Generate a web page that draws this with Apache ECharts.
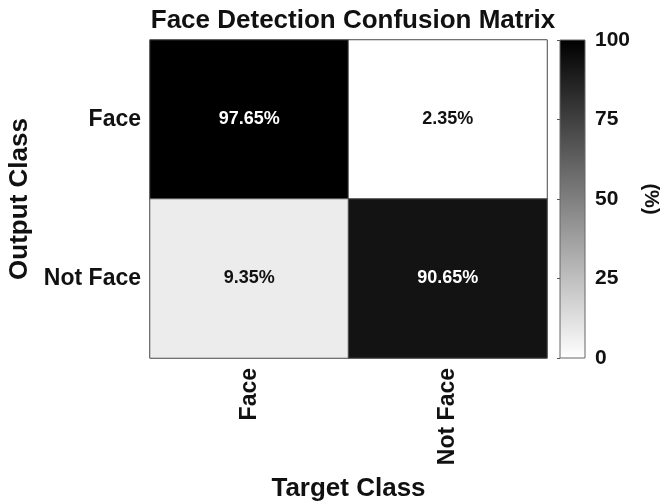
<!DOCTYPE html>
<html>
<head>
<meta charset="utf-8">
<script src="https://cdn.jsdelivr.net/npm/echarts@6/dist/echarts.min.js"></script>
<style>
  html, body { margin: 0; padding: 0; background: #fff; }
  #chart { width: 664px; height: 504px; }
</style>
</head>
<body>
<div id="chart"></div>
<script>
// confusion matrix, rows = output class, cols = target class (in %)
const targetClasses = ['Face', 'Not Face'];
const outputClasses = ['Face', 'Not Face'];
const cells = [
  [97.65, 2.35],
  [9.35, 90.65]
];
const colorTicks = [0, 25, 50, 75, 100];

const font = "'Liberation Sans', Arial, sans-serif";

var data = [];
cells.forEach(function (row, r) {
  row.forEach(function (v, c) {
    data.push({
      value: [c, r, v],
      label: { color: v > 50 ? '#ffffff' : '#111111' }
    });
  });
});
// cell shading is scaled over the data range (like the original plot)
var allVals = [].concat.apply([], cells);
var cMin = Math.min.apply(null, allVals);
var cMax = Math.max.apply(null, allVals);

var myChart = echarts.init(document.getElementById('chart'), null, { renderer: 'canvas' });

var option = {
  backgroundColor: '#fff',
  animation: false,
  title: {
    text: 'Face Detection Confusion Matrix',
    left: 348,
    top: 3,
    textAlign: 'center',
    textStyle: { fontFamily: font, fontSize: 26, fontWeight: 'bold', color: '#111' }
  },
  grid: [
    {
      left: 150, top: 40, width: 397, height: 318, show: true,
      borderColor: '#666', borderWidth: 1, outerBoundsMode: 'none'
    },
    {
      // colour bar
      left: 560, top: 40, width: 25, height: 318, show: true,
      borderColor: '#666', borderWidth: 1, outerBoundsMode: 'none',
      backgroundColor: new echarts.graphic.LinearGradient(0, 0, 0, 1, [
        { offset: 0, color: '#000000' },
        { offset: 1, color: '#ffffff' }
      ])
    }
  ],
  xAxis: [
    {
      type: 'category',
      gridIndex: 0,
      data: targetClasses,
      axisLine: { show: false },
      axisTick: { show: false },
      splitLine: { show: false },
      axisLabel: { rotate: 90, margin: 10, fontFamily: font, fontSize: 23, fontWeight: 'bold', color: '#111' },
      name: 'Target Class',
      nameLocation: 'middle',
      nameGap: 118,
      nameTextStyle: { fontFamily: font, fontSize: 26, fontWeight: 'bold', color: '#111' }
    },
    { type: 'value', gridIndex: 1, show: false, min: 0, max: 1 }
  ],
  yAxis: [
    {
      type: 'category',
      gridIndex: 0,
      data: outputClasses,
      inverse: true,
      axisLine: { show: false },
      axisTick: { show: false },
      splitLine: { show: false },
      axisLabel: { margin: 9, fontFamily: font, fontSize: 23, fontWeight: 'bold', color: '#111' },
      name: 'Output Class',
      nameLocation: 'middle',
      nameRotate: 90,
      nameGap: 116,
      nameTextStyle: { fontFamily: font, fontSize: 26, fontWeight: 'bold', color: '#111' }
    },
    {
      type: 'value',
      gridIndex: 1,
      position: 'right',
      min: colorTicks[0],
      max: colorTicks[colorTicks.length - 1],
      interval: 25,
      axisLine: { show: false },
      axisTick: { show: true, inside: true, length: 3, lineStyle: { color: '#555' } },
      splitLine: { show: false },
      axisLabel: { margin: 10, fontFamily: font, fontSize: 21, fontWeight: 'bold', color: '#111' },
      name: '(%)',
      nameLocation: 'middle',
      nameRotate: -90,
      nameGap: 56,
      nameTextStyle: { fontFamily: font, fontSize: 20, fontWeight: 'bold', color: '#111' }
    }
  ],
  visualMap: {
    show: false,
    type: 'continuous',
    seriesIndex: 0,
    min: cMin,
    max: cMax,
    inRange: { color: ['#ffffff', '#000000'] }
  },
  series: [{
    type: 'heatmap',
    xAxisIndex: 0,
    yAxisIndex: 0,
    data: data,
    itemStyle: { borderColor: '#555', borderWidth: 1 },
    label: {
      show: true,
      fontFamily: font,
      fontSize: 18,
      fontWeight: 'bold',
      formatter: function (p) { return p.value[2].toFixed(2) + '%'; }
    },
    emphasis: { disabled: true }
  }]
};

option && myChart.setOption(option);
</script>
</body>
</html>
